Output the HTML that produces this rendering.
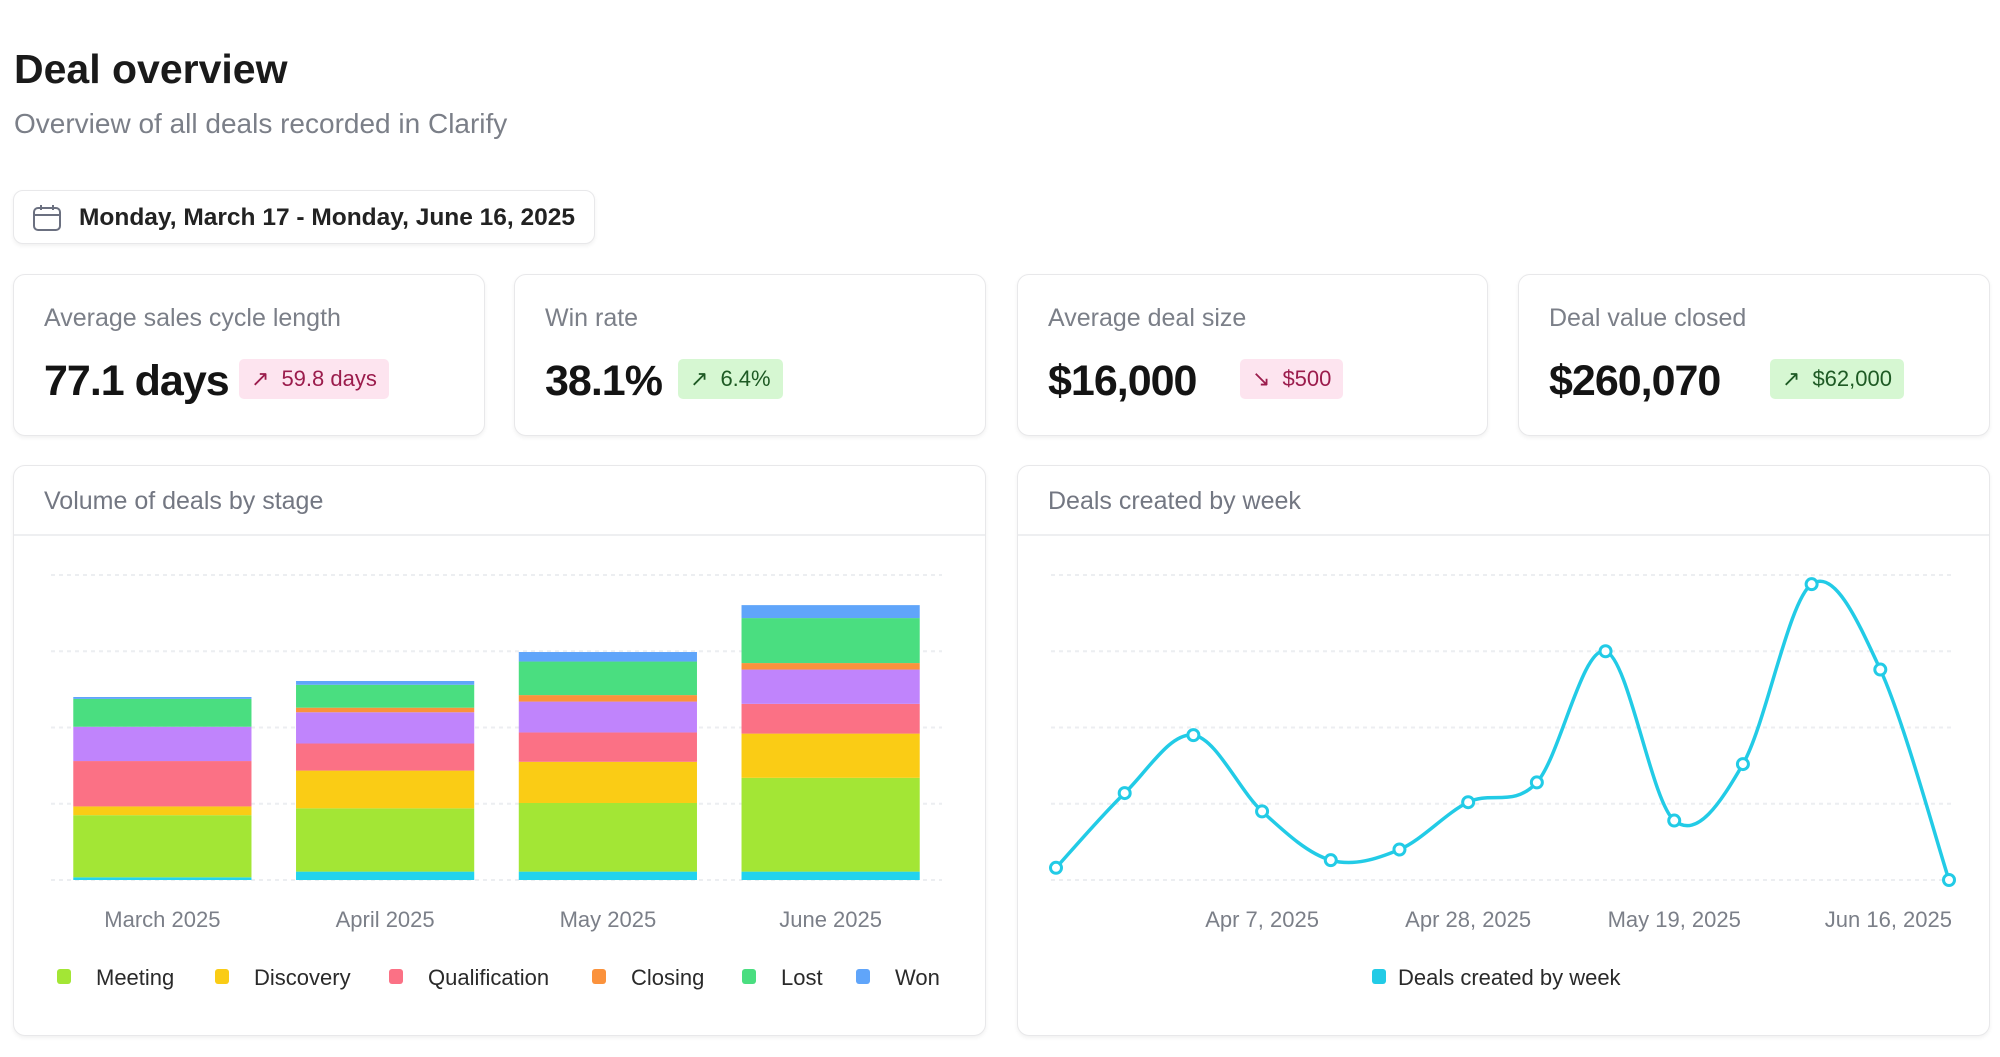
<!DOCTYPE html>
<html><head><meta charset="utf-8"><style>
*{box-sizing:border-box;margin:0;padding:0}
body{width:2000px;height:1057px;background:#fff;font-family:"Liberation Sans",sans-serif;position:relative;overflow:hidden;color:#111}
.abs{position:absolute}
.card{position:absolute;border:1px solid #e8e8ea;border-radius:12px;background:#fff;box-shadow:0 2px 4px rgba(0,0,0,0.06)}
.klabel{position:absolute;left:30px;top:29px;font-size:25px;color:#7b7f88}
.kval{position:absolute;left:30px;top:82px;font-size:43px;font-weight:bold;letter-spacing:-1px;color:#141414}
.badge{position:absolute;top:84px;height:40px;border-radius:5px;font-size:22px;display:flex;align-items:center;padding:0 12px;gap:12px}
.pink{background:#fde4ef;color:#9b1c4c}
.green{background:#d6f7d2;color:#1e5a24}
.ctitle{position:absolute;left:30px;top:21px;font-size:25px;color:#737782}
.chead{position:absolute;left:0;right:0;top:68px;border-top:2px solid #eeeff1}
</style></head><body>
<div class="abs" style="left:14px;top:46px;font-size:41px;font-weight:bold;color:#1a1a1a">Deal overview</div>
<div class="abs" style="left:14px;top:108px;font-size:28px;color:#7b7f88">Overview of all deals recorded in Clarify</div>
<div class="card" style="left:13px;top:190px;width:582px;height:54px;border-radius:10px">
<svg class="abs" style="left:18px;top:13px" width="30" height="28" viewBox="0 0 30 28"><rect x="2" y="4" width="26" height="22" rx="4" fill="none" stroke="#6b7080" stroke-width="2"/><line x1="2" y1="11" x2="28" y2="11" stroke="#6b7080" stroke-width="2"/><line x1="9" y1="1" x2="9" y2="6" stroke="#6b7080" stroke-width="2"/><line x1="21" y1="1" x2="21" y2="6" stroke="#6b7080" stroke-width="2"/></svg>
<div class="abs" style="left:65px;top:13px;font-size:24.5px;font-weight:bold;color:#222">Monday, March 17 - Monday, June 16, 2025</div>
</div>

<div class="card" style="left:13px;top:274px;width:472px;height:162px">
<div class="klabel">Average sales cycle length</div>
<div class="kval">77.1 days</div>
<div class="badge pink" style="left:225px">↗<span>59.8 days</span></div>
</div>
<div class="card" style="left:514px;top:274px;width:472px;height:162px">
<div class="klabel">Win rate</div>
<div class="kval">38.1%</div>
<div class="badge green" style="left:163px">↗<span>6.4%</span></div>
</div>
<div class="card" style="left:1017px;top:274px;width:471px;height:162px">
<div class="klabel">Average deal size</div>
<div class="kval">$16,000</div>
<div class="badge pink" style="left:222px">↘<span>$500</span></div>
</div>
<div class="card" style="left:1518px;top:274px;width:472px;height:162px">
<div class="klabel">Deal value closed</div>
<div class="kval">$260,070</div>
<div class="badge green" style="left:251px">↗<span>$62,000</span></div>
</div>

<div class="card" style="left:13px;top:465px;width:973px;height:571px">
<div class="ctitle">Volume of deals by stage</div><div class="chead"></div></div>
<div class="card" style="left:1017px;top:465px;width:973px;height:571px">
<div class="ctitle">Deals created by week</div><div class="chead"></div></div>

<svg id="charts" class="abs" style="left:0;top:0" width="2000" height="1057"></svg>
<script>
const months=["March 2025","April 2025","May 2025","June 2025"];
const stageNames=["Prospect","Meeting","Discovery","Qualification","Proposal","Closing","Lost","Won"];
const stageColors=["#22d3ee","#a3e635","#facc15","#fb7185","#c084fc","#fb923c","#4ade80","#60a5fa"];
const sProspect=[0.35,1.1,1.1,1.1];
const sMeeting=[8.15,8.3,9.0,12.3];
const sDiscovery=[1.15,4.95,5.4,5.8];
const sQualification=[5.95,3.55,3.85,3.9];
const sProposal=[4.5,4.1,4.05,4.5];
const sClosing=[0,0.6,0.85,0.85];
const sLost=[3.65,3.0,4.4,5.9];
const sWon=[0.25,0.5,1.25,1.7];
const stageTicks=[0,10,20,30,40];
const legendNames=["Meeting","Discovery","Qualification","Closing","Lost","Won"];
const legendColors=["#a3e635","#facc15","#fb7185","#fb923c","#4ade80","#60a5fa"];

const weekLabels=["Mar 17, 2025","Mar 24, 2025","Mar 31, 2025","Apr 7, 2025","Apr 14, 2025","Apr 21, 2025","Apr 28, 2025","May 5, 2025","May 12, 2025","May 19, 2025","May 26, 2025","Jun 2, 2025","Jun 9, 2025","Jun 16, 2025"];
const weekValues=[0.8,5.7,9.5,4.5,1.3,2.0,5.1,6.4,15.0,3.9,7.6,19.4,13.8,0];
const weekTicks=[0,5,10,15,20];
const shownWeekLabels=[3,6,9,13];

const NS="http://www.w3.org/2000/svg";
const svg=document.getElementById("charts");
function mk(t,a,p){const e=document.createElementNS(NS,t);for(const k in a)e.setAttribute(k,a[k]);(p||svg).appendChild(e);return e;}

// Stage chart
const L={x0:51,x1:942,y0:880,y1:575};
const yS=v=>L.y0-(v/40)*(L.y0-L.y1);
const band=(L.x1-L.x0)/months.length;
const xS=i=>L.x0+band*i+band*0.1;
const bw=band*0.8;
stageTicks.forEach(t=>{const g=mk("line",{x1:L.x0,x2:L.x1,y1:yS(t),y2:yS(t),stroke:"#eceef1","stroke-width":2,"stroke-dasharray":"4 4"});

});
const series=[sProspect,sMeeting,sDiscovery,sQualification,sProposal,sClosing,sLost,sWon];
months.forEach((m,i)=>{let acc=0;
 series.forEach((s,k)=>{const v=s[i];if(v<=0)return;
  const r=mk("rect",{x:xS(i),y:yS(acc+v),width:bw,height:yS(acc)-yS(acc+v),fill:stageColors[k]});
  
  
  acc+=v;});
 const t=mk("text",{x:xS(i)+bw/2,y:927,"text-anchor":"middle","font-size":22,fill:"#7b7f88"});t.textContent=m;
 
 
});
const legX=[64,222,396,599,749,863];
legendNames.forEach((n,i)=>{
 const r=mk("rect",{x:legX[i]-7,y:969,width:14,height:15,rx:3,fill:legendColors[i]});
 
 
 const t=mk("text",{x:legX[i]+32,y:985,"font-size":22,fill:"#2a2a2a"});t.textContent=n;
 
 
});

// Weekly chart
const R={x0:1056,x1:1949,y0:880,y1:575};
const yW=v=>R.y0-(v/20)*(R.y0-R.y1);
const xW=i=>R.x0+(R.x1-R.x0)*i/(weekValues.length-1);
weekTicks.forEach(t=>{const g=mk("line",{x1:1051,x2:1954,y1:yW(t),y2:yW(t),stroke:"#eceef1","stroke-width":2,"stroke-dasharray":"4 4"});

});
const pts=weekValues.map((v,i)=>[xW(i),yW(v)]);
let d="M"+pts[0][0]+","+pts[0][1];
for(let i=0;i<pts.length-1;i++){const p0=pts[Math.max(0,i-1)],p1=pts[i],p2=pts[i+1],p3=pts[Math.min(pts.length-1,i+2)];
 const c1=[p1[0]+(p2[0]-p0[0])/6,p1[1]+(p2[1]-p0[1])/6],c2=[p2[0]-(p3[0]-p1[0])/6,p2[1]-(p3[1]-p1[1])/6];
 d+=" C"+c1+" "+c2+" "+p2;}
const line=mk("path",{d:d,fill:"none",stroke:"#22cbe6","stroke-width":3.5});


pts.forEach((p,i)=>{const c=mk("circle",{cx:p[0],cy:p[1],r:5.5,fill:"#fff",stroke:"#22cbe6","stroke-width":3});
 
 });
shownWeekLabels.forEach((i,k)=>{const last=i===weekValues.length-1;
 const t=mk("text",{x:last?xW(i)+3:xW(i),y:927,"text-anchor":last?"end":"middle","font-size":22,fill:"#7b7f88"});t.textContent=weekLabels[i];
 
 });
const lr=mk("rect",{x:1372,y:969,width:14,height:15,rx:3,fill:"#22cbe6"});


const lt=mk("text",{x:1398,y:985,"font-size":22,fill:"#2a2a2a"});lt.textContent="Deals created by week";


</script>
</body></html>
